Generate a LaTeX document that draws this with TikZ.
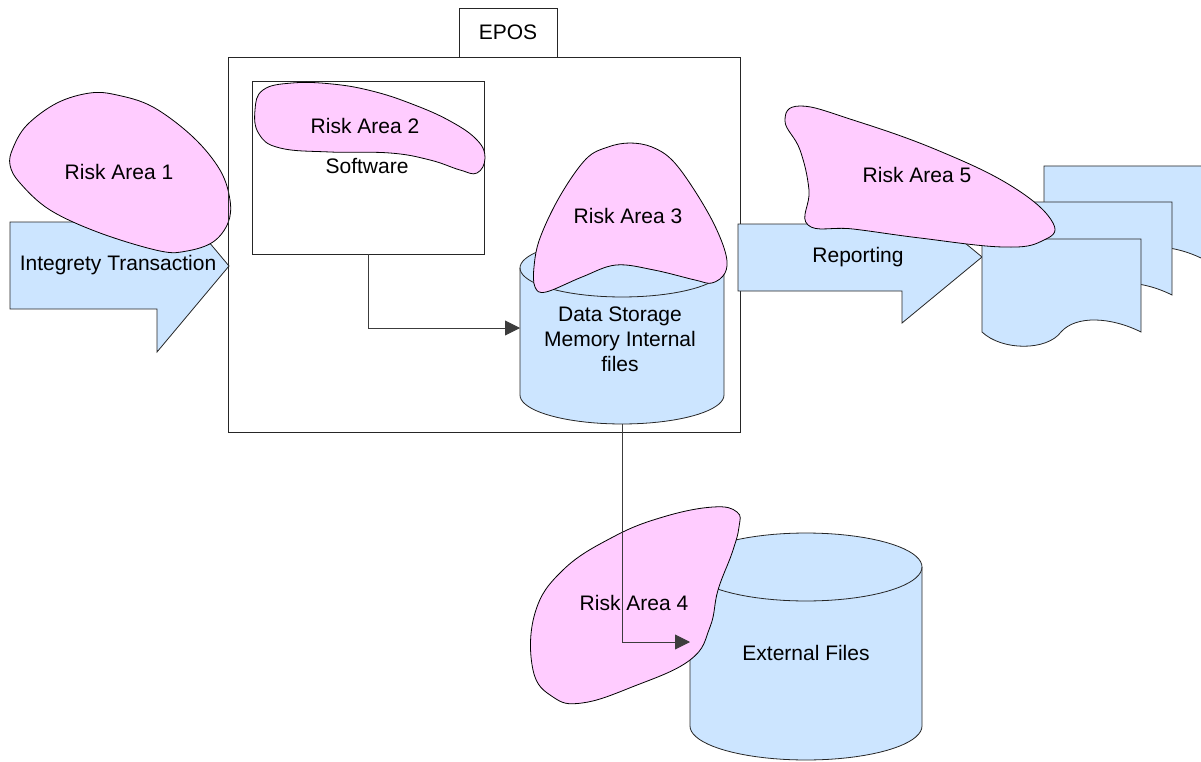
\documentclass[tikz,border=0pt]{standalone}
\usepackage{fontspec}
\setmainfont{Liberation Sans}
\usetikzlibrary{arrows.meta}
\definecolor{riskpink}{RGB}{255,204,255}
\definecolor{storeblue}{RGB}{204,229,255}
\definecolor{edgegray}{RGB}{60,60,60}
\tikzset{
  lbl/.style={font=\fontsize{21}{25}\selectfont, inner sep=0pt, align=center},
  risk/.style={fill=riskpink, draw=black, line width=0.8pt},
  blue/.style={fill=storeblue, draw=black!85, line width=0.8pt},
  frame/.style={draw=black!85, line width=0.9pt, inner sep=0pt},
  link/.style={draw=edgegray, line width=0.9pt, -{Triangle[length=15pt,width=15pt]}},
}
\begin{document}
\begin{tikzpicture}[x=1pt,y=-1pt]
\useasboundingbox (0,0) rectangle (1201,762);

% ---- input block arrow ----
\path[blue] (10,222) -- (157,222) -- (157,180) -- (229,266) -- (157,352)
  -- (157,309) -- (10,309) -- cycle;
\node[lbl] (txn) at (118,265) {Integrety Transaction};
\path[risk] plot[smooth cycle, tension=0.6] coordinates
  {(90,93) (117,95) (153,107) (193,137) (220,170) (230,200) (228,223) (213,242)
   (187,251) (160,251) (100,233) (50,210) (20,183) (10,165) (13,148) (27,125) (57,103)};
\node[lbl] (r1) at (119,172) {Risk Area 1};

% ---- EPOS container ----
\node[frame, minimum width=512pt, minimum height=375pt] (epos) at (484,244.5) {};
\node[frame, minimum width=98pt, minimum height=49pt] (eposlbl) at (508,32.5) {};
\node[lbl] (eposname) at (508,32) {EPOS};

% ---- software ----
\node[frame, minimum width=232pt, minimum height=173pt] (sw) at (368,167.5) {};
\path[risk] plot[smooth cycle, tension=0.7] coordinates
  {(255,110) (263,90) (292,83) (332,84) (372,91) (412,104) (450,121) (477,140)
   (485,158) (477,173) (460,170) (430,160) (390,153) (330,152) (280,148) (259,134)};
\node[lbl] (r2) at (365,126) {Risk Area 2};
\node[lbl] (swname) at (367,166) {Software};

% ---- internal data storage (cylinder) ----
\path[blue] (520,268) -- (520,395)
  -- plot[domain=180:0, samples=40] ({622+102*cos(\x)},{395+29*sin(\x)})
  -- (724,268)
  -- plot[domain=0:-180, samples=40] ({622+102*cos(\x)},{268+29*sin(\x)}) -- cycle;
\draw[black!85, line width=0.8pt] plot[domain=0:180, samples=40] ({622+102*cos(\x)},{268+29*sin(\x)});
\path[risk] plot[smooth cycle, tension=0.6] coordinates
  {(630,143) (652,147) (672,160) (693,188) (714,224) (726,255) (725,273) (712,283) (695,280)
   (654,270) (616,265) (582,277) (546,292) (535,287) (534,267) (540,238) (560,196)
   (586,159) (608,147)};
\node[lbl] (r3) at (628,216) {Risk Area 3};
\node[lbl] (ds) at (620,339) {Data Storage\\Memory Internal\\files};
\coordinate (dsW) at (520,328);
\coordinate (dsS) at (622,424);

% ---- reporting ----
\path[blue] (738,224) -- (902,224) -- (902,191) -- (982,257) -- (902,323)
  -- (902,291) -- (738,291) -- cycle;
\node[lbl] (rep) at (858,257) {Reporting};

% stacked documents: back, middle, front
\foreach \dx/\dy in {62/-73, 31/-37, 0/0}{
  \path[blue] ({982+\dx},{239+\dy}) -- ({1141+\dx},{239+\dy}) -- ({1141+\dx},{332+\dy})
    .. controls ({1111+\dx},{317+\dy}) and ({1076+\dx},{315+\dy}) .. ({1061+\dx},{332+\dy})
    .. controls ({1047+\dx},{351+\dy}) and ({1002+\dx},{351+\dy}) .. ({982+\dx},{332+\dy})
    -- cycle;
}
\path[risk] plot[smooth cycle, tension=0.7] coordinates
  {(785,121) (800,106) (853,120) (937,150) (1013,187) (1053,223) (1042,241) (1003,247)
   (920,238) (853,229) (808,225) (809,190) (800,150)};
\node[lbl] (r5) at (917,175) {Risk Area 5};

% ---- external files (cylinder) ----
\path[blue] (690,567) -- (690,726)
  -- plot[domain=180:0, samples=40] ({806+116*cos(\x)},{726+34*sin(\x)})
  -- (922,567)
  -- plot[domain=0:-180, samples=40] ({806+116*cos(\x)},{567+34*sin(\x)}) -- cycle;
\draw[black!85, line width=0.8pt] plot[domain=0:180, samples=40] ({806+116*cos(\x)},{567+34*sin(\x)});
\node[lbl] (ext) at (806,653) {External Files};
\coordinate (extW) at (690,642);
\path[risk] plot[smooth cycle, tension=0.7] coordinates
  {(737,512) (713,507) (663,517) (613,537) (563,570) (535,613) (533,670) (553,697)
   (582,703) (632,687) (690,660) (710,627) (718,590) (732,553) (739,527)};
\node[lbl] (r4) at (634,603) {Risk Area 4};

% ---- connectors ----
\draw[link] (sw.south) |- (dsW);
\draw[link] (dsS) |- (extW);
\end{tikzpicture}
\end{document}
